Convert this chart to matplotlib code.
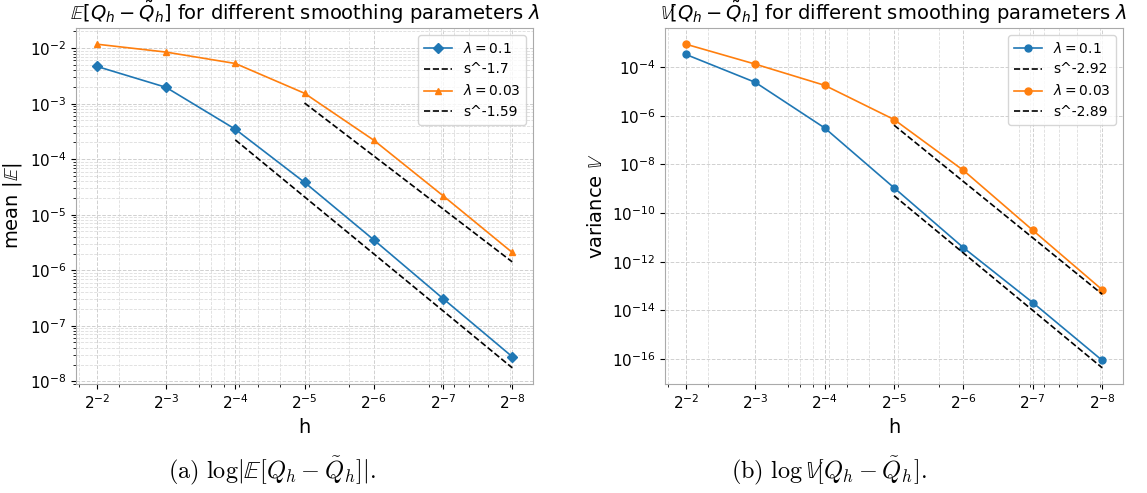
import numpy as np
import matplotlib.pyplot as plt
from matplotlib.ticker import NullLocator, NullFormatter

# step sizes h = 2^-2 ... 2^-8
h = [2**-2, 2**-3, 2**-4, 2**-5, 2**-6, 2**-7, 2**-8]
h_labels = [r'$2^{-2}$', r'$2^{-3}$', r'$2^{-4}$', r'$2^{-5}$', r'$2^{-6}$', r'$2^{-7}$', r'$2^{-8}$']

# mean |E[Q_h - Q~_h]|
mean_l01 = [4.7e-3, 1.97e-3, 3.47e-4, 3.83e-5, 3.53e-6, 3.09e-7, 2.77e-8]
mean_l003 = [1.18e-2, 8.5e-3, 5.3e-3, 1.54e-3, 2.2e-4, 2.2e-5, 2.09e-6]

# variance V[Q_h - Q~_h]
var_l01 = [3.3e-4, 2.36e-5, 3.16e-7, 1.1e-9, 3.8e-12, 2.1e-14, 8.9e-17]
var_l003 = [8.7e-4, 1.32e-4, 1.78e-5, 7.0e-7, 5.7e-9, 1.97e-11, 7.1e-14]

# reference rate lines: label, first index, value there, slope in h
mean_fit_labels = ['s^-1.7', 's^-1.59']
mean_fit_start = [2, 3]
mean_fit_value = [2.23e-4, 1.03e-3]
mean_fit_slope = [3.41, 3.17]

var_fit_labels = ['s^-2.92', 's^-2.89']
var_fit_start = [3, 3]
var_fit_value = [5.2e-10, 4.1e-7]
var_fit_slope = [7.83, 7.69]

lam_labels = [r'$\lambda = 0.1$', r'$\lambda = 0.03$']


def fit_line(start, value, slope):
	hh = np.array(h[start:])
	return hh, value * (hh / hh[0]) ** slope


def draw(ax, series, markers, fit_labels, fit_start, fit_value, fit_slope):
	colors = ['tab:blue', 'tab:orange']
	for i in range(2):
		ax.plot(h, series[i], marker=markers[i], color=colors[i], lw=1.2, ms=5, label=lam_labels[i])
		hh, ff = fit_line(fit_start[i], fit_value[i], fit_slope[i])
		ax.plot(hh, ff, 'k--', lw=1.2, label=fit_labels[i])

	ax.set_xscale('log')
	ax.set_yscale('log')
	ax.set_xticks(h, h_labels)
	ax.xaxis.set_minor_formatter(NullFormatter())
	ax.invert_xaxis()
	ax.grid(True, which='major', color='#d0d0d0', ls='--', lw=0.7)
	ax.grid(True, which='minor', color='#dddddd', ls='--', lw=0.6)
	ax.tick_params(labelsize=11)
	for sp in ax.spines.values():
		sp.set_color('#aaaaaa')
	ax.set_xlabel('h', fontsize=14)
	ax.legend(loc='upper right', fontsize=10)


fig = plt.figure(figsize=(11.47, 4.93), dpi=100)

ax1 = fig.add_axes([0.0663, 0.2211, 0.3984, 0.7221])
draw(ax1, [mean_l01, mean_l003], ['D', '^'], mean_fit_labels, mean_fit_start, mean_fit_value, mean_fit_slope)
ax1.set_ylabel(r'mean $|\mathbb{E}|$', fontsize=14)
ax1.set_title(r'$\mathbb{E}[Q_h - \tilde{Q}_h]$ for different smoothing parameters $\lambda$', fontsize=14)

ax2 = fig.add_axes([0.5798, 0.2211, 0.3993, 0.7221])
draw(ax2, [var_l01, var_l003], ['o', 'o'], var_fit_labels, var_fit_start, var_fit_value, var_fit_slope)
ax2.yaxis.set_minor_locator(NullLocator())
ax2.set_ylabel(r'variance $\mathbb{V}$', fontsize=14)
ax2.set_title(r'$\mathbb{V}[Q_h - \tilde{Q}_h]$ for different smoothing parameters $\lambda$', fontsize=14)

fig.text(0.237, 0.045, r'$\mathrm{(a)}\ \log|\mathbb{E}[Q_h - \tilde{Q}_h]|.$', ha='center', va='center',
	fontsize=17.5, math_fontfamily='cm')
fig.text(0.7228, 0.045, r'$\mathrm{(b)}\ \log\mathbb{V}[Q_h - \tilde{Q}_h].$', ha='center', va='center',
	fontsize=17.5, math_fontfamily='cm')

fig.savefig('out.png', dpi=100)
